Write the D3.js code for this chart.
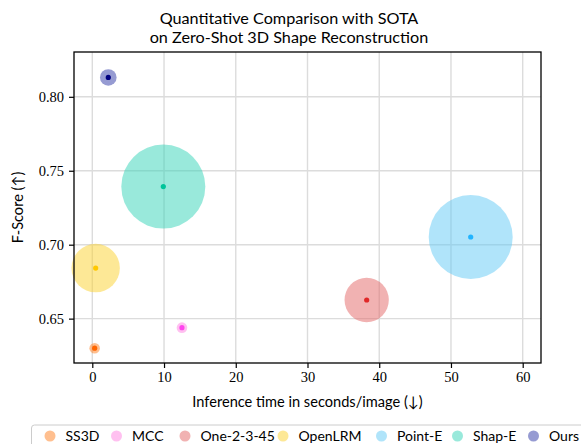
<!DOCTYPE html>
<html><head><meta charset="utf-8">
<script src="https://cdn.jsdelivr.net/npm/d3@7"></script>
<style>body{margin:0;background:#fff}</style>
</head><body>
<script>
const methods = ["SS3D","MCC","One-2-3-45","OpenLRM","Point-E","Shap-E","Ours"];
const inferenceTime = [0.33, 12.5, 38.25, 0.47, 52.75, 9.9, 2.23];
const fScore = [0.630, 0.6439, 0.6626, 0.6842, 0.7052, 0.7393, 0.8131];
const bubbleSize = [28, 28, 490, 585, 1764, 1764, 69];
const fillColors = ["#ff7f1f","#ff81e1","#e36565","#fbd12d","#61c9f5","#33d3b7","#2d37a5"];
const dotColors = ["#ff6600","#ff44ee","#e02828","#ffc800","#22b4ff","#00c49a","#000080"];
const xTicks = [0,10,20,30,40,50,60];
const yTicks = [0.65,0.70,0.75,0.80];
const titleLines = ["Quantitative Comparison with SOTA","on Zero-Shot 3D Shape Reconstruction"];

const W=581,H=444;
const m={left:74,right:40,top:52,bottom:81};
const svg=d3.select("body").append("svg").attr("width",W).attr("height",H);
const x=d3.scaleLinear().domain([-2.55,62.55]).range([m.left,W-m.right]);
const y=d3.scaleLinear().domain([0.6200,0.8303]).range([H-m.bottom,m.top]);
const r=d3.scaleSqrt().domain([0,1764]).range([0,42]);
const sans="'Lato','Liberation Sans',sans-serif";
const serif="'Liberation Serif',serif";

// grid
const g=svg.append("g");
g.selectAll(".vx").data(xTicks).join("line").attr("x1",d=>x(d)).attr("x2",d=>x(d))
 .attr("y1",m.top).attr("y2",H-m.bottom).attr("stroke","#dcdcdc").attr("stroke-width",1.4);
g.selectAll(".hy").data(yTicks).join("line").attr("y1",d=>y(d)).attr("y2",d=>y(d))
 .attr("x1",m.left).attr("x2",W-m.right).attr("stroke","#dcdcdc").attr("stroke-width",1.4);

// bubbles
const data=methods.map((d,i)=>({name:d,x:inferenceTime[i],y:fScore[i],s:bubbleSize[i],fill:fillColors[i],dot:dotColors[i]}));
svg.selectAll(".bub").data(data).join("circle").attr("cx",d=>x(d.x)).attr("cy",d=>y(d.y))
 .attr("r",d=>r(d.s)).attr("fill",d=>d.fill).attr("fill-opacity",0.5);
svg.selectAll(".dot").data(data).join("circle").attr("cx",d=>x(d.x)).attr("cy",d=>y(d.y))
 .attr("r",2.6).attr("fill",d=>d.dot);

// axes
const xa=svg.append("g").attr("transform",`translate(0,${H-m.bottom})`)
 .call(d3.axisBottom(x).tickValues(xTicks).tickSize(5).tickPadding(4).tickFormat(d3.format("d")));
const ya=svg.append("g").attr("transform",`translate(${m.left},0)`)
 .call(d3.axisLeft(y).tickValues(yTicks).tickSize(5).tickPadding(5).tickFormat(d3.format(".2f")));
[xa,ya].forEach(a=>{a.select(".domain").remove();
 a.selectAll("line").attr("stroke","#000").attr("stroke-width",1.2);
 a.selectAll("text").attr("font-family",serif).attr("font-size",14.5).attr("fill","#000");});
svg.append("rect").attr("x",m.left).attr("y",m.top).attr("width",W-m.right-m.left)
 .attr("height",H-m.bottom-m.top).attr("fill","none").attr("stroke","#000").attr("stroke-width",1.3);

// labels
svg.append("text").attr("x",(m.left+W-m.right)/2).attr("y",407).attr("text-anchor","middle")
 .attr("font-family",sans).attr("font-size",14.6).text("Inference time in seconds/image (↓)");
svg.append("text").attr("transform",`translate(23,${(m.top+H-m.bottom)/2}) rotate(-90)`).attr("text-anchor","middle")
 .attr("font-family",sans).attr("font-size",14.6).text("F-Score (↑)");
svg.selectAll(".title").data(titleLines).join("text").attr("x",289).attr("y",(d,i)=>24+i*18.5)
 .attr("text-anchor","middle").attr("font-family",sans).attr("font-size",16.2).text(d=>d);

// legend
const lg=svg.append("g");
lg.append("rect").attr("x",31.5).attr("y",425).attr("width",580).attr("height",40).attr("rx",3)
 .attr("fill","#fff").attr("stroke","#cccccc").attr("stroke-width",1);
const lx=[50,116.5,185,283,381.5,457.5,533.5];
const items=lg.selectAll(".it").data(data).join("g").attr("transform",(d,i)=>`translate(${lx[i]},436)`);
items.append("circle").attr("r",5.5).attr("fill",d=>d.fill).attr("fill-opacity",0.5);
items.append("text").attr("x",15.5).attr("y",5).attr("font-family",sans).attr("font-size",14).text(d=>d.name);
</script>
</body></html>
